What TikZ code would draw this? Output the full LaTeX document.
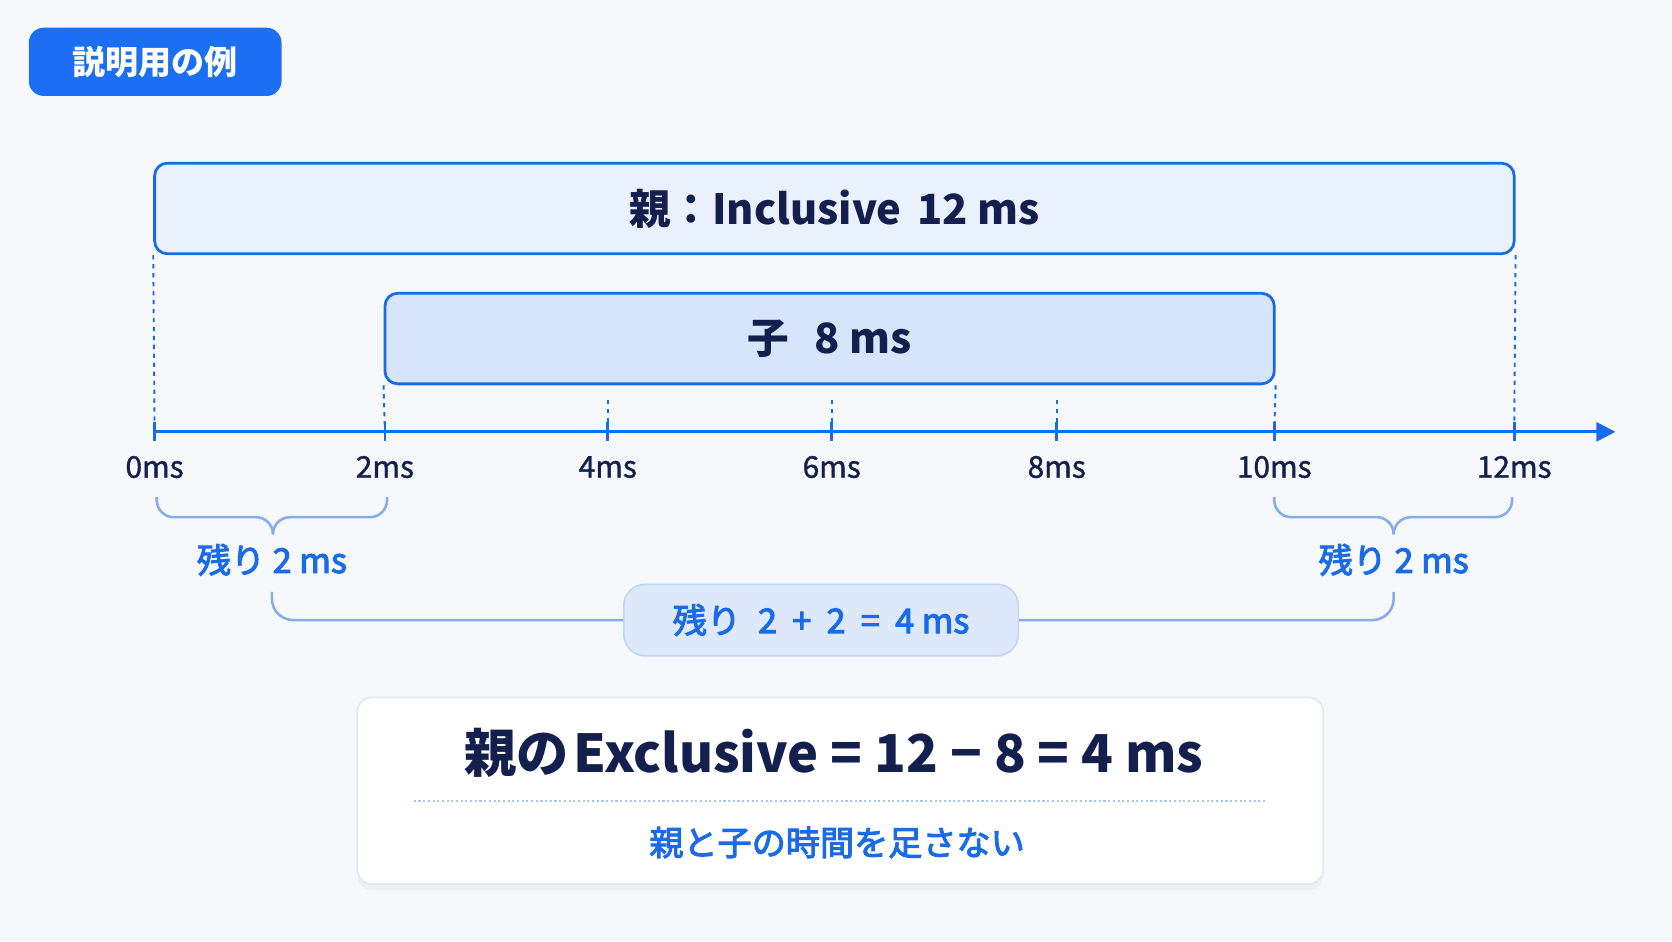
\documentclass[tikz,border=0pt]{standalone}
\usepackage{fontspec}
\setmainfont{Noto Sans CJK JP}
\newfontfamily\medfont[FakeBold=3]{Noto Sans CJK JP}
\newfontfamily\tickfont[FakeBold=1.2]{Noto Sans CJK JP}
\usetikzlibrary{arrows.meta,shadows}
\definecolor{accent}{HTML}{1A6BE8}
\definecolor{tagblue}{HTML}{1C6EF2}
\definecolor{navy}{HTML}{13204D}
\definecolor{parentfill}{HTML}{E9F1FD}
\definecolor{childfill}{HTML}{D6E5FB}
\definecolor{bracecol}{HTML}{86ACEA}
\definecolor{pillfill}{HTML}{DDE9FB}
\definecolor{pilldraw}{HTML}{C3D6F5}
\definecolor{cardline}{HTML}{E4E8EF}
\definecolor{sepcol}{HTML}{A9C4EE}
\definecolor{bgcol}{HTML}{F6F8FB}
\begin{document}
\begin{tikzpicture}[x=0.5pt,y=-0.5pt,
    bar/.style={draw=accent, line width=1.3pt, rounded corners=6pt, text=navy,
      font=\fontsize{19.5}{24}\selectfont\bfseries, minimum height=42.5pt},
    guide/.style={accent, line width=0.9pt, dash pattern=on 2pt off 2.2pt},
    tickmark/.style={accent, line width=1.3pt},
    ticklabel/.style={text=navy, font=\fontsize{14}{16}\tickfont},
    bracel/.style={draw=bracecol, line width=1.2pt, rounded corners=8pt},
    remain/.style={text=accent, font=\fontsize{16}{18}\medfont}]
  \fill[bgcol] (0,0) rectangle (1568,882.5);
  \useasboundingbox (0,0) rectangle (1568,882.5);

  % tag
  \node[fill=tagblue, rounded corners=7pt, minimum width=118.5pt, minimum height=32pt,
    text=white, font=\fontsize{15.5}{18}\selectfont\bfseries] (tag) at (145.5,58) {説明用の例};

  % bars
  \node[bar, fill=parentfill, minimum width=637.5pt] (parent) at (782.5,195.5)
    {親：Inclusive\hspace{0.15em} 12 ms};
  \node[bar, fill=childfill, minimum width=417pt] (child) at (778,317.5)
    {子\hspace{0.6em}8 ms};

  % axis
  \coordinate (a0) at (145,405);
  \coordinate (aend) at (1515,405);
  \draw[accent, line width=1.3pt, -{Triangle[length=9pt,width=9pt]}] (a0) -- (aend);
  \foreach \x/\lab in {145/0,361/2,570/4,780/6,991/8,1195/10,1420/12} {
    \coordinate (t\lab) at (\x,405);
    \draw[tickmark] (\x,396) -- (\x,414);
    \node[ticklabel] (l\lab) at (\x,438) {\lab ms};
  }
  \begin{scope}[guide]
    \draw (parent.south west) -- (t0);
    \draw (parent.south east) -- (t12);
    \draw (child.south west) -- (t2);
    \draw (child.south east) -- (t10);
    \draw (t4) ++(0,-30) -- (t4);
    \draw (t6) ++(0,-30) -- (t6);
    \draw (t8) ++(0,-30) -- (t8);
  \end{scope}

  % braces
  \draw[bracel] (147,466) |- (256,485) -- (256,500);
  \draw[bracel] (363,466) |- (256,485) -- (256,500);
  \draw[bracel] (1195,466) |- (1307,485) -- (1307,500);
  \draw[bracel] (1418,466) |- (1307,485) -- (1307,500);
  \node[remain] (remL) at (255,525) {残り 2 ms};
  \node[remain] (remR) at (1307,525) {残り 2 ms};

  \node[remain, fill=pillfill, draw=pilldraw, line width=0.8pt, rounded corners=10pt,
    minimum width=185pt, minimum height=33.5pt] (pill) at (770,581.5)
    {残り\hspace{0.5em}2\hspace{0.45em}+\hspace{0.45em}2\hspace{0.45em}=\hspace{0.45em}4 ms};
  \draw[bracel, rounded corners=10pt] ([yshift=-4pt]remL.south) |- (pill.west);
  \draw[bracel, rounded corners=10pt] ([yshift=-4pt]remR.south) |- (pill.east);

  % result card
  \node[fill=white, draw=cardline, line width=0.8pt, rounded corners=7pt,
    minimum width=453pt, minimum height=87.5pt,
    drop shadow={opacity=0.06, shadow xshift=0pt, shadow yshift=-3pt}] (card) at (788,741.5) {};
  \node[text=navy, font=\fontsize{24.5}{28}\selectfont\bfseries] (title) at (782,706)
    {親の\hspace{0.1em}Exclusive = 12 − 8 = 4 ms};
  \draw[sepcol, line width=0.7pt, dash pattern=on 1pt off 1.2pt] (388,751) -- (1187,751);
  \node[text=accent, font=\fontsize{16}{18}\medfont] (sub) at (785,790)
    {親と子の時間を足さない};
\end{tikzpicture}
\end{document}
